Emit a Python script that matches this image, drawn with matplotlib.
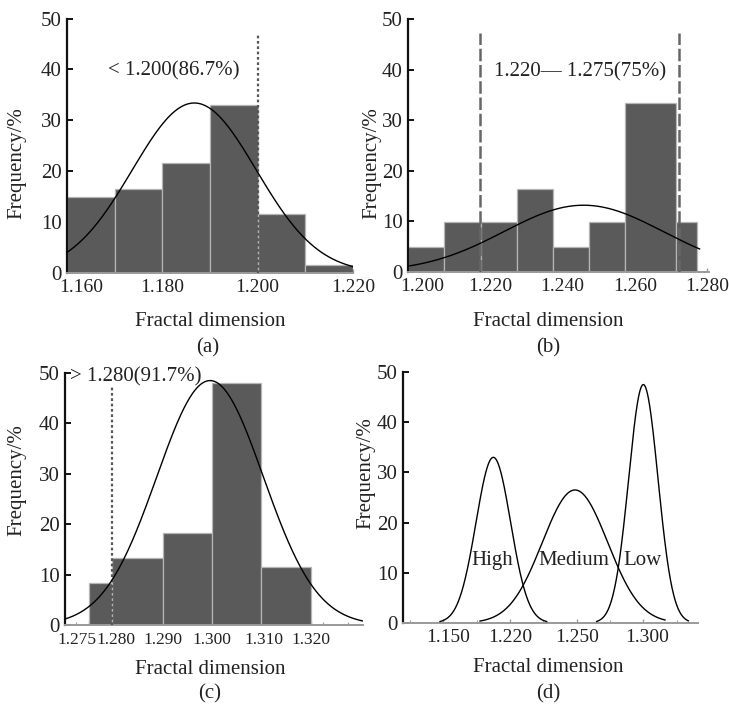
import numpy as np
import matplotlib
matplotlib.use("Agg")
import matplotlib.pyplot as plt
from matplotlib.transforms import ScaledTranslation

plt.rcParams['font.family'] = ['Liberation Serif', 'DejaVu Serif']

W, H = 729, 706

# ---------------- data ----------------
# (a)
a_edges = [1.160, 1.170, 1.180, 1.190, 1.200, 1.210, 1.220]
a_freq = [15.0, 16.6, 21.6, 33.1, 11.6, 1.6]
a_fit = dict(mean=1.1867, sigma=0.0130, peak=33.4)
a_xrange = [1.160, 1.220]
a_ticks = [1.160, 1.180, 1.200, 1.220]
a_ticklabels = ["1.160", "1.180", "1.200", "1.220"]
a_line = 1.200
a_text = "< 1.200(86.7%)"

# (b)
b_edges = [1.1972, 1.2073, 1.2174, 1.2273, 1.2372, 1.2472, 1.2573, 1.2713, 1.2771]
b_freq = [4.9, 9.9, 9.9, 16.5, 4.9, 9.9, 33.4, 9.9]
b_fit = dict(mean=1.2458, sigma=0.0220, peak=13.2)
b_xrange = [1.1972, 1.2779]
b_ticks = [1.200, 1.220, 1.240, 1.260, 1.280]
b_ticklabels = ["1.200", "1.220", "1.240", "1.260", "1.280"]
b_lines = [1.2170, 1.2721]
b_text = "1.220\u2014 1.275(75%)"

# (c)
c_edges = [1.275, 1.2797, 1.290, 1.300, 1.310, 1.320]
c_freq = [8.4, 13.3, 18.2, 48.1, 11.6]
c_fit = dict(mean=1.2996, sigma=0.0108, peak=48.5)
c_xrange = [1.2702, 1.3306]
c_ticks = [1.275, 1.280, 1.290, 1.300, 1.310, 1.320]
c_ticklabels = ["1.275", "1.280", "1.290", "1.300", "1.310", "1.320"]
c_line = 1.2797
c_text = "> 1.280(91.7%)"

# (d)  (x axis drawn on an ordinal scale, tick labels as printed)
d_ticklabels = ["1.150", "1.220", "1.250", "1.300"]
d_names = ["High", "Medium", "Low"]
d_mean = [0.75, 1.975, 3.00]
d_sigma = [0.26, 0.49, 0.22]
d_peak = [33.0, 26.5, 47.5]
d_start = [-0.05, 0.55, 2.30]
d_end = [1.55, 3.325, 3.675]

yticks = [0, 10, 20, 30, 40, 50]

# ---------------- style ----------------
BAR = "#5a5a5a"
BAR_EDGE = "#b5b5b5"
AX_GRAY = "#9a9a9a"
YTICK_FS = 15
XTICK_FS = 14
LAB_FS = 15
TXT = "#222222"


def px_axes(x0, x1, y0, y1):
    return fig.add_axes([x0 / W, 1 - y1 / H, (x1 - x0) / W, (y1 - y0) / H])


def style(ax):
    for s in ("top", "right"):
        ax.spines[s].set_visible(False)
    ax.spines["left"].set_linewidth(1.6)
    ax.spines["left"].set_color("#111111")
    ax.spines["bottom"].set_color(AX_GRAY)
    ax.spines["bottom"].set_linewidth(1.4)
    ax.set_ylim(0, 50)
    ax.set_yticks(yticks)
    ax.tick_params(axis="y", direction="in", length=4, width=1.4, labelsize=YTICK_FS,
                   pad=4, color="#111111", labelcolor=TXT)
    ax.tick_params(axis="x", direction="in", length=3, width=1.0, labelsize=XTICK_FS,
                   pad=4, color=AX_GRAY, labelcolor=TXT)
    ax.tick_params(axis="x", which="minor", direction="in", length=2, width=0.8, color=AX_GRAY)
    ax.set_facecolor("none")


def shift_label(ax, idx, dx_px):
    lab = ax.get_xticklabels()[idx]
    lab.set_transform(lab.get_transform() + ScaledTranslation(dx_px / 100, 0, fig.dpi_scale_trans))


def gauss(x, mean, sigma, peak):
    return peak * np.exp(-0.5 * ((x - mean) / sigma) ** 2)


def hist(ax, edges, freq):
    edges = np.asarray(edges)
    ax.bar(edges[:-1], freq, width=np.diff(edges), align="edge", color=BAR,
           edgecolor=BAR_EDGE, linewidth=0.9, zorder=2)


fig = plt.figure(figsize=(W / 100, H / 100), dpi=100)
fig.patch.set_facecolor("white")

# ---- (a)
ax = px_axes(67, 353, 18.5, 273)
style(ax)
hist(ax, a_edges, a_freq)
x = np.linspace(*a_xrange, 300)
ax.plot(x, gauss(x, **a_fit), color="black", lw=1.0, zorder=4)
ax.plot([a_line, a_line], [0, 47], color="#555555", lw=1.6, ls=(0, (1.2, 1.2)), zorder=3)
ax.set_xlim(1.160, 1.220)
ax.set_xticks(a_ticks)
ax.set_xticklabels(a_ticklabels)
ax.set_xticks(a_edges, minor=True)
shift_label(ax, 0, 14)
ax.text(1.1824, 39.8, a_text, ha="center", va="center", fontsize=LAB_FS, color=TXT)

# ---- (b)
ax = px_axes(408, 709, 19, 272)
style(ax)
hist(ax, b_edges, b_freq)
x = np.linspace(*b_xrange, 300)
ax.plot(x, gauss(x, **b_fit), color="black", lw=1.0, zorder=4)
for v in b_lines:
    ax.plot([v, v], [0, 47.2], color="#666666", lw=1.8, ls=(0, (5, 1.5)), zorder=3)
ax.set_xlim(1.1972, 1.2805)
ax.set_xticks(b_ticks)
ax.set_xticklabels(b_ticklabels)
shift_label(ax, 0, 4)
ax.text(1.2448, 39.6, b_text, ha="center", va="center", fontsize=LAB_FS, color=TXT)

# ---- (c)
ax = px_axes(65, 363, 373, 625)
style(ax)
ax.tick_params(axis="x", labelsize=12.5, pad=5)
hist(ax, c_edges, c_freq)
x = np.linspace(*c_xrange, 300)
ax.plot(x, gauss(x, **c_fit), color="black", lw=1.0, zorder=4)
ax.plot([c_line, c_line], [0, 47.6], color="#555555", lw=1.6, ls=(0, (1.2, 1.2)), zorder=3)
ax.set_xlim(*c_xrange)
ax.set_xticks(c_ticks)
ax.set_xticklabels(c_ticklabels)
ax.set_xticks(np.arange(1.2725, 1.331, 0.005), minor=True)
shift_label(ax, 0, -12)
shift_label(ax, 1, 3)
shift_label(ax, 4, 3)
ax.text(1.2713, 49.3, c_text, ha="left", va="center", fontsize=LAB_FS, color=TXT)

# ---- (d)
ax = px_axes(403, 698, 372, 623)
style(ax)
for nm, m, s, p, st, en in zip(d_names, d_mean, d_sigma, d_peak, d_start, d_end):
    x = np.linspace(st, en, 300)
    ax.plot(x, gauss(x, m, s, p), color="black", lw=1.0, zorder=4)
    ax.text(m - 0.02, 12.4, nm, ha="center", va="center", fontsize=LAB_FS, color=TXT)
ax.set_xlim(-0.605, 3.82)
ax.set_xticks(range(len(d_ticklabels)))
ax.set_xticklabels(d_ticklabels)
ax.set_xticks(np.arange(-0.5, 3.8, 0.5), minor=True)
shift_label(ax, 0, 5)
shift_label(ax, 3, 4)

# ---------------- labels ----------------
def ftext(xp, yp, s, **kw):
    fig.text(xp / W, 1 - yp / H, s, ha="center", va="center", fontsize=LAB_FS,
             color=TXT, **kw)

for xp, yp in [(210, 321), (548, 321), (210, 669), (548, 667)]:
    ftext(xp, yp, "Fractal dimension")
for xp, yp in [(17, 163), (372, 163), (17, 480), (366, 473)]:
    ftext(xp, yp, "Frequency/%", rotation=90)
for xp, yp, s in [(208, 348, "(a)"), (548, 348, "(b)"), (210, 694, "(c)"), (548, 694, "(d)")]:
    ftext(xp, yp, s)

fig.savefig("out.png", dpi=100, facecolor="white")
